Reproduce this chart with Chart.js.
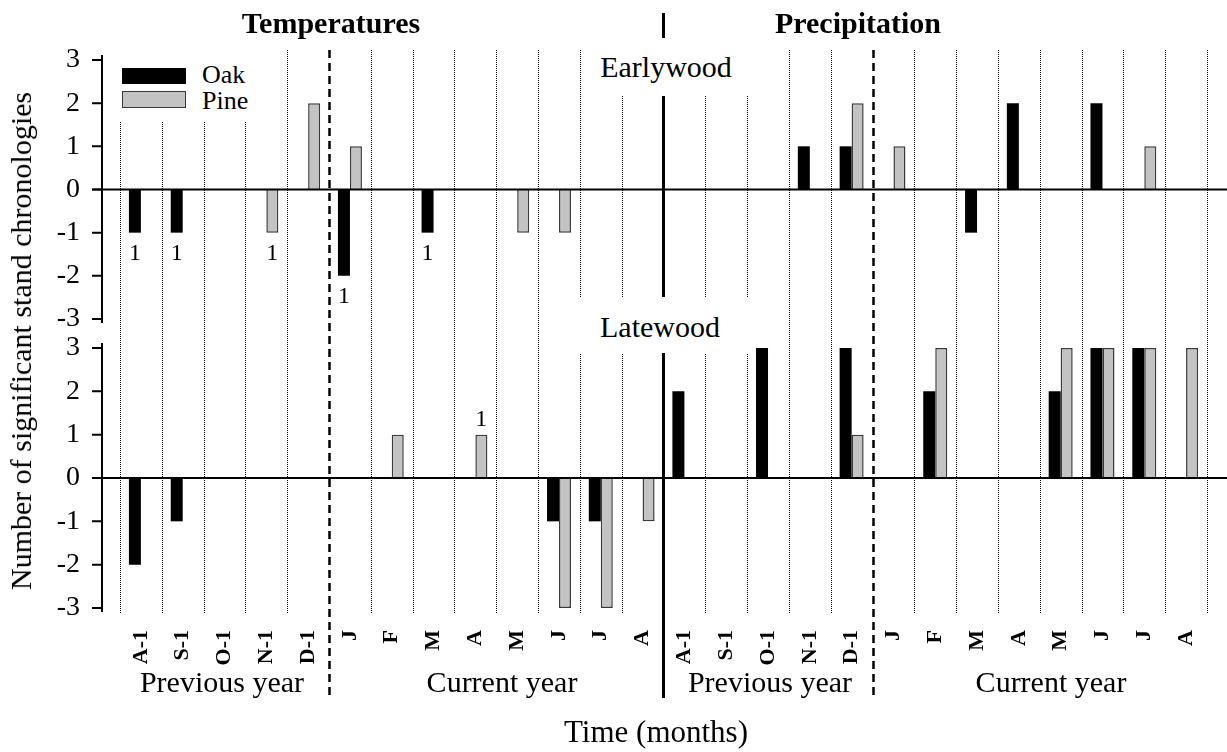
<!DOCTYPE html>
<html>
<head>
<meta charset="utf-8">
<script src="https://cdn.jsdelivr.net/npm/chart.js@4.4.1/dist/chart.umd.min.js"></script>
<style>
  body { margin: 0; background: #fff; }
  #wrap { position: relative; width: 1227px; height: 752px; overflow: hidden;
          font-family: "Liberation Serif", "Times New Roman", serif; color: #000; }
  #wrap canvas { position: absolute; left: 0; }
  .mask { position: absolute; background: #fff; }
  .t { position: absolute; white-space: nowrap; line-height: 1; }
  .c { transform: translateX(-50%); }
  .key { position: absolute; box-sizing: border-box; }
</style>
</head>
<body>
<div id="wrap">
  <canvas id="early" width="1227" height="336" style="top:0"></canvas>
  <canvas id="late" width="1227" height="432" style="top:320px"></canvas>

  <!-- fonds blancs derriere les textes -->
  <div class="mask" style="left:108px;top:45px;width:154px;height:76px"></div>
  <div class="mask" style="left:590px;top:38px;width:162px;height:58px"></div>
  <div class="mask" style="left:575px;top:297px;width:177px;height:56px"></div>

  <!-- legende -->
  <div class="key" style="left:122px;top:68px;width:64px;height:16px;background:#000"></div>
  <div class="key" style="left:122px;top:91px;width:64px;height:17px;background:#c3c3c3;border:1.5px solid #3a3a3a"></div>
  <div class="t" style="left:202px;top:62px;font-size:26px">Oak</div>
  <div class="t" style="left:202px;top:88px;font-size:26px">Pine</div>

  <!-- titres -->
  <div class="t c" style="left:331px;top:8px;font-size:30px;font-weight:bold">Temperatures</div>
  <div class="t c" style="left:858px;top:8px;font-size:30px;font-weight:bold">Precipitation</div>
  <div class="t c" style="left:666px;top:52px;font-size:30px">Earlywood</div>
  <div class="t c" style="left:660px;top:312px;font-size:30px">Latewood</div>

  <!-- groupes de mois -->
  <div class="t c" style="left:222px;top:667px;font-size:30px">Previous year</div>
  <div class="t c" style="left:502px;top:667px;font-size:30px">Current year</div>
  <div class="t c" style="left:770px;top:667px;font-size:30px">Previous year</div>
  <div class="t c" style="left:1051px;top:667px;font-size:30px">Current year</div>
  <div class="t c" style="left:656px;top:716px;font-size:31px">Time (months)</div>

  <div class="t" style="left:21px;top:341px;font-size:30px;transform:translate(-50%,-50%) rotate(-90deg)">Number of significant stand chronologies</div>
</div>

<script>
// Categories : temperatures (13 mois) puis precipitations (13 mois)
const categories = ['A-1','S-1','O-1','N-1','D-1','J','F','M','A','M','J','J','A',
                    'A-1','S-1','O-1','N-1','D-1','J','F','M','A','M','J','J','A'];
const yTicks = [-3, -2, -1, 0, 1, 2, 3];

// Bois initial (Earlywood)
const oakEarly  = [-1,-1, 0, 0, 0,-2, 0,-1, 0, 0, 0, 0, 0,   0, 0, 0, 1, 1, 0, 0,-1, 2, 0, 2, 0, 0];
const pineEarly = [ 0, 0, 0,-1, 2, 1, 0, 0, 0,-1,-1, 0, 0,   0, 0, 0, 0, 2, 1, 0, 0, 0, 0, 0, 1, 0];
// Bois final (Latewood)
const oakLate   = [-2,-1, 0, 0, 0, 0, 0, 0, 0, 0,-1,-1, 0,   2, 0, 3, 0, 3, 0, 2, 0, 0, 2, 3, 3, 0];
const pineLate  = [ 0, 0, 0, 0, 0, 0, 1, 0, 1, 0,-3,-3,-1,   0, 0, 0, 0, 1, 0, 3, 0, 0, 3, 3, 3, 3];

// Petits "1" sous / au-dessus des barres
const oakEarlyNotes  = ['1','1','','','','1','','1','','','','','',  '','','','','','','','','','','','',''];
const pineEarlyNotes = ['','','','1','','','','','','','','','',     '','','','','','','','','','','','',''];
const oakLateNotes   = ['','','','','','','','','','','','','',      '','','','','','','','','','','','',''];
const pineLateNotes  = ['','','','','','','','','1','','','','',     '','','','','','','','','','','','',''];

const FONT = '"Liberation Serif", "Times New Roman", serif';

const panelLines = {
  id: 'panelLines',
  beforeDatasetsDraw(chart, args, o) {
    const ctx = chart.ctx, x = chart.scales.x;
    const step = x.getPixelForValue(1) - x.getPixelForValue(0);
    const edge = k => Math.round(x.getPixelForValue(0) + (k - 0.5) * step) + 0.5;
    const line = (x0, y0, y1) => { ctx.beginPath(); ctx.moveTo(x0, y0); ctx.lineTo(x0, y1); ctx.stroke(); };
    ctx.save();
    ctx.strokeStyle = '#000';
    ctx.lineWidth = 1;
    ctx.setLineDash([1, 1]);
    for (let k = 0; k <= categories.length; k++) {
      if (k === 5 || k === 13 || k === 18) continue;
      line(edge(k), o.dotTop, o.dotBottom);
    }
    ctx.lineWidth = 2.5;
    ctx.setLineDash([8, 5]);
    line(edge(5), o.dashTop, o.dashBottom);
    line(edge(18), o.dashTop, o.dashBottom);
    ctx.setLineDash([]);
    ctx.lineWidth = 3;
    line(edge(13), o.midTop, o.dashBottom);
    ctx.restore();
  },
  afterDatasetsDraw(chart, args, o) {
    const ctx = chart.ctx, y = chart.scales.y;
    ctx.save();
    ctx.strokeStyle = '#000';
    ctx.lineWidth = 2;
    // ligne zero
    const y0 = y.getPixelForValue(0);
    ctx.beginPath(); ctx.moveTo(92, y0); ctx.lineTo(chart.width, y0); ctx.stroke();
    // axe y + graduations
    ctx.beginPath();
    ctx.moveTo(102, y.getPixelForValue(3) - 5);
    ctx.lineTo(102, y.getPixelForValue(-3) + 4);
    yTicks.forEach(v => { const py = y.getPixelForValue(v); ctx.moveTo(92, py); ctx.lineTo(102, py); });
    ctx.stroke();
    // annotations
    ctx.fillStyle = '#000';
    ctx.font = '24px ' + FONT;
    ctx.textAlign = 'center';
    ctx.textBaseline = 'alphabetic';
    o.notes.forEach((notes, di) => {
      const meta = chart.getDatasetMeta(di);
      const vals = chart.data.datasets[di].data;
      notes.forEach((txt, i) => {
        if (!txt) return;
        const el = meta.data[i];
        const py = vals[i] < 0 ? el.y + 27 : el.y - 9;
        ctx.fillText(txt, el.x, py);
      });
    });
    ctx.restore();
  }
};

function makePanel(id, oak, pine, notes, lines, showX, padTop, padBottom, xHeight) {
  return new Chart(document.getElementById(id), {
    type: 'bar',
    data: {
      labels: categories,
      datasets: [
        { label: 'Oak', data: oak, backgroundColor: '#000', borderWidth: 0 },
        { label: 'Pine', data: pine, backgroundColor: '#c3c3c3', borderColor: '#3a3a3a', borderWidth: 1.5 }
      ]
    },
    options: {
      responsive: false,
      animation: false,
      devicePixelRatio: 1,
      categoryPercentage: 0.574,
      barPercentage: 1,
      layout: { padding: { top: padTop, bottom: padBottom, left: 0, right: 20 } },
      plugins: {
        legend: { display: false },
        tooltip: { enabled: false },
        panelLines: Object.assign({ notes: notes }, lines)
      },
      scales: {
        x: {
          display: showX,
          grid: { display: false, drawTicks: true, tickLength: 22 },
          border: { display: false },
          afterFit: s => { if (xHeight) s.height = xHeight; },
          ticks: {
            autoSkip: false, minRotation: 90, maxRotation: 90, padding: 0,
            color: '#000', font: { family: FONT, size: 22, weight: 'bold' }
          }
        },
        y: {
          min: -3, max: 3,
          grid: { display: false, drawTicks: true, tickLength: 40 },
          border: { display: false },
          afterFit: s => { s.width = 120; },
          afterBuildTicks: s => { s.ticks = yTicks.map(v => ({ value: v })); },
          ticks: {
            padding: 0, color: '#000',
            font: { family: FONT, size: 28 },
            callback: v => String(v)
          }
        }
      }
    },
    plugins: [panelLines]
  });
}

makePanel('early', oakEarly, pineEarly, [oakEarlyNotes, pineEarlyNotes],
  { dotTop: 50, dotBottom: 336, dashTop: 50, dashBottom: 336, midTop: 13 },
  false, 60, 17, 0);

makePanel('late', oakLate, pineLate, [oakLateNotes, pineLateNotes],
  { dotTop: 16, dotBottom: 293, dashTop: 16, dashBottom: 378, midTop: 16 },
  true, 28, 0, 144);
</script>
</body>
</html>
